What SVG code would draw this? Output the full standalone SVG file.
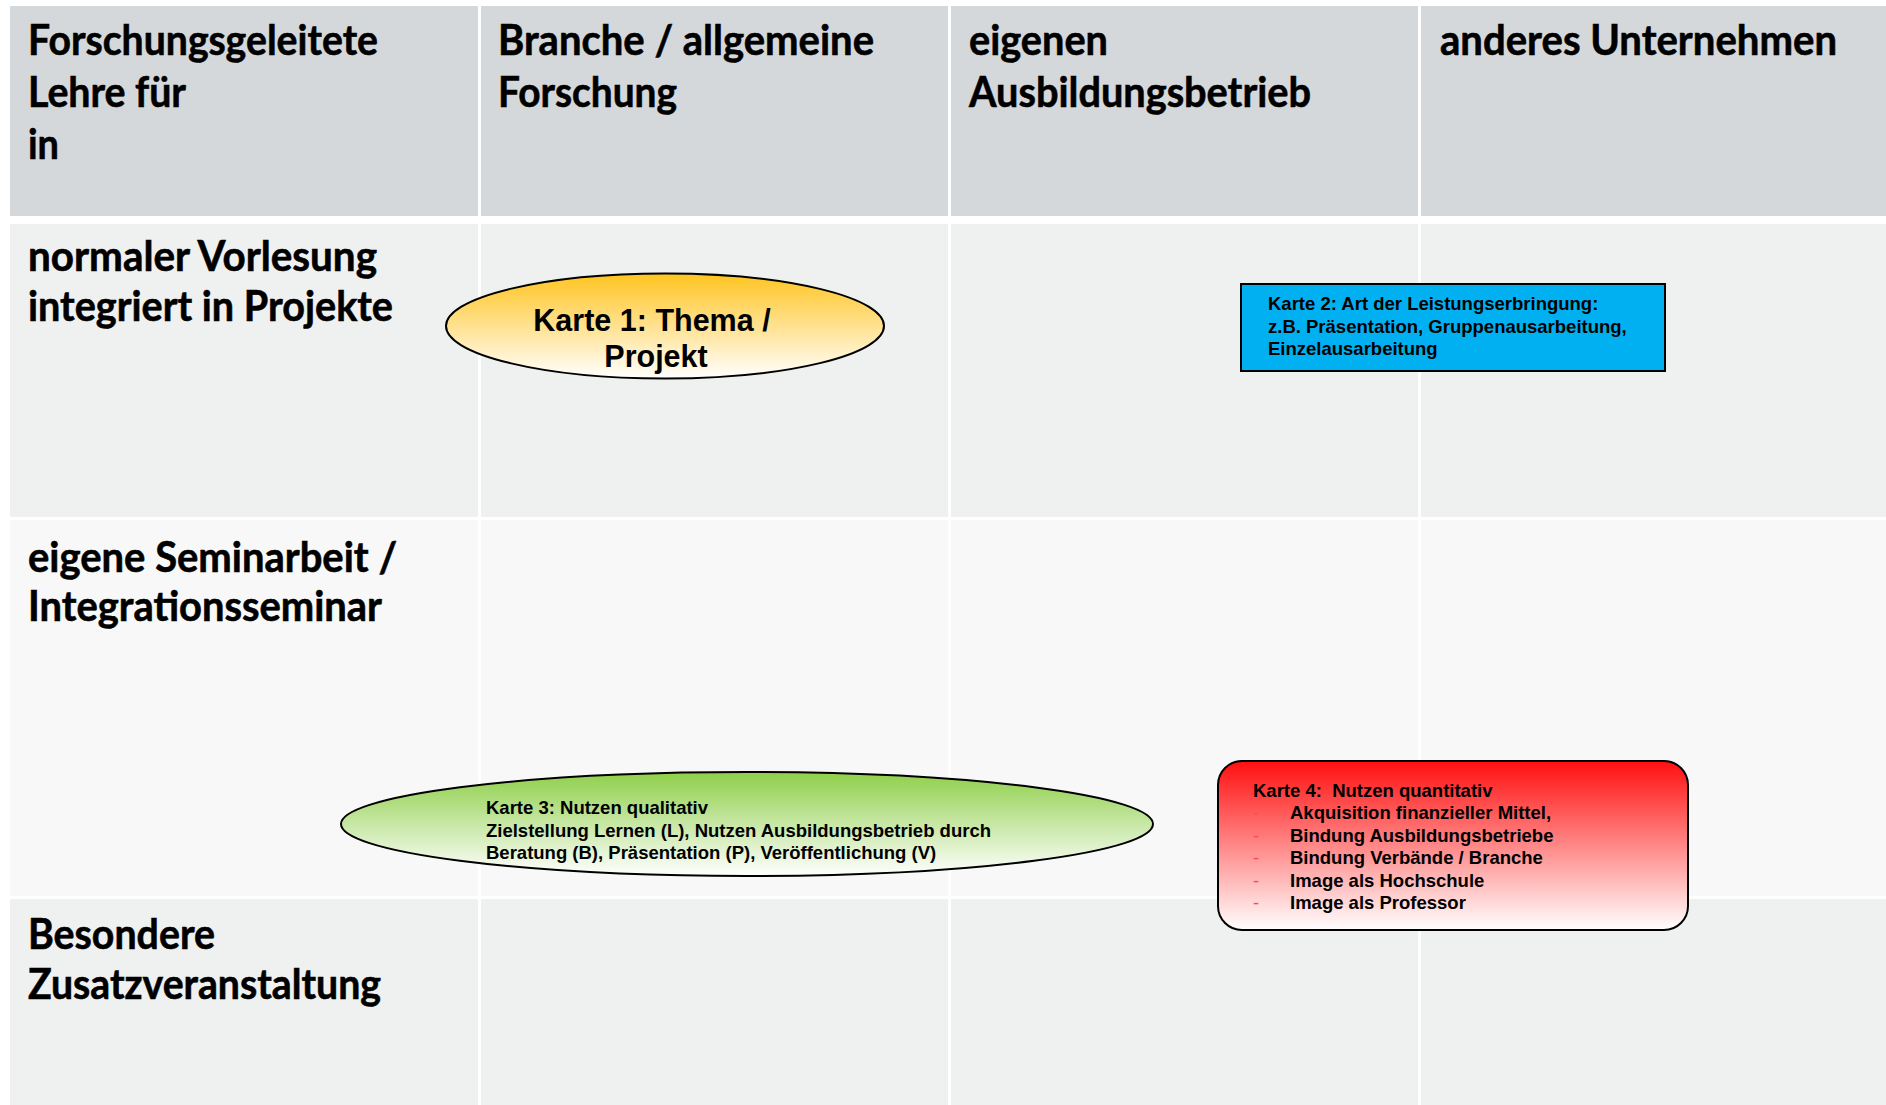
<svg xmlns="http://www.w3.org/2000/svg" width="1886" height="1105" viewBox="0 0 1886 1105">
<defs>
<style>
.hdr{fill:#d5d8db}
.r1{fill:#eff0f0}
.r2{fill:#f8f8f8}
.lab{font-family:Lato,"Open Sans","Noto Sans",sans-serif;font-weight:bold;font-size:42px;fill:#000;stroke:#000;stroke-width:0.6}
.card{font-family:"Liberation Sans",Arial,sans-serif;font-weight:bold;font-size:18.5px;fill:#000}
.big{font-family:"Liberation Sans",Arial,sans-serif;font-weight:bold;font-size:30.5px;fill:#000}
.dash{font-family:"Liberation Sans",Arial,sans-serif;font-size:18.5px;fill:#ff4a4a}
.shape{stroke:#000;stroke-width:2}
</style>
<linearGradient id="gOrange" x1="0" y1="0" x2="0" y2="1">
<stop offset="0" stop-color="#ffc420"/>
<stop offset="1" stop-color="#ffffff"/>
</linearGradient>
<linearGradient id="gGreen" x1="0" y1="0" x2="0" y2="1">
<stop offset="0" stop-color="#8fcf4a"/>
<stop offset="1" stop-color="#ffffff"/>
</linearGradient>
<linearGradient id="gRed" x1="0" y1="0" x2="0" y2="1">
<stop offset="0" stop-color="#ff1010"/>
<stop offset="1" stop-color="#ffffff"/>
</linearGradient>
</defs>
<rect x="0" y="0" width="1886" height="1105" fill="#ffffff"/>
<g id="table">
<rect class="hdr" x="10" y="6" width="468" height="210"/>
<rect class="hdr" x="481" y="6" width="467" height="210"/>
<rect class="hdr" x="951" y="6" width="467" height="210"/>
<rect class="hdr" x="1421" y="6" width="465" height="210"/>
<rect class="r1" x="10" y="224" width="468" height="293"/>
<rect class="r1" x="481" y="224" width="467" height="293"/>
<rect class="r1" x="951" y="224" width="467" height="293"/>
<rect class="r1" x="1421" y="224" width="465" height="293"/>
<rect class="r2" x="10" y="520" width="468" height="376"/>
<rect class="r2" x="481" y="520" width="467" height="376"/>
<rect class="r2" x="951" y="520" width="467" height="376"/>
<rect class="r2" x="1421" y="520" width="465" height="376"/>
<rect class="r1" x="10" y="899" width="468" height="206"/>
<rect class="r1" x="481" y="899" width="467" height="206"/>
<rect class="r1" x="951" y="899" width="467" height="206"/>
<rect class="r1" x="1421" y="899" width="465" height="206"/>
</g>
<g id="headers">
<text class="lab" x="28" y="55" textLength="350" lengthAdjust="spacingAndGlyphs">Forschungsgeleitete</text>
<text class="lab" x="28" y="107" textLength="158" lengthAdjust="spacingAndGlyphs">Lehre für</text>
<text class="lab" x="28" y="159" textLength="31" lengthAdjust="spacingAndGlyphs">in</text>
<text class="lab" x="498" y="55" textLength="376" lengthAdjust="spacingAndGlyphs">Branche / allgemeine</text>
<text class="lab" x="498" y="107" textLength="179" lengthAdjust="spacingAndGlyphs">Forschung</text>
<text class="lab" x="969" y="55" textLength="139" lengthAdjust="spacingAndGlyphs">eigenen</text>
<text class="lab" x="969" y="107" textLength="342" lengthAdjust="spacingAndGlyphs">Ausbildungsbetrieb</text>
<text class="lab" x="1440" y="55" textLength="397" lengthAdjust="spacingAndGlyphs">anderes Unternehmen</text>
</g>
<g id="rowlabels">
<text class="lab" x="28" y="271" textLength="349" lengthAdjust="spacingAndGlyphs">normaler Vorlesung</text>
<text class="lab" x="28" y="321" textLength="365" lengthAdjust="spacingAndGlyphs">integriert in Projekte</text>
<text class="lab" x="28" y="572" textLength="369" lengthAdjust="spacingAndGlyphs">eigene Seminarbeit /</text>
<text class="lab" x="28" y="621" textLength="354" lengthAdjust="spacingAndGlyphs">Integrationsseminar</text>
<text class="lab" x="28" y="949" textLength="187" lengthAdjust="spacingAndGlyphs">Besondere</text>
<text class="lab" x="28" y="999" textLength="353" lengthAdjust="spacingAndGlyphs">Zusatzveranstaltung</text>
</g>
<g id="connectors"></g>
<g id="karte1">
<ellipse class="shape" cx="665" cy="326" rx="219" ry="52.5" fill="url(#gOrange)"/>
<text class="big" x="652" y="331" text-anchor="middle">Karte 1: Thema /</text>
<text class="big" x="656" y="367" text-anchor="middle">Projekt</text>
</g>
<g id="karte2">
<rect class="shape" x="1241" y="284" width="424" height="87" fill="#00b0f0"/>
<text class="card" x="1268" y="310">Karte 2: Art der Leistungserbringung:</text>
<text class="card" x="1268" y="332.5">z.B. Präsentation, Gruppenausarbeitung,</text>
<text class="card" x="1268" y="355">Einzelausarbeitung</text>
</g>
<g id="karte3">
<ellipse class="shape" cx="747" cy="824" rx="406" ry="52" fill="url(#gGreen)"/>
<text class="card" x="486" y="814">Karte 3: Nutzen qualitativ</text>
<text class="card" x="486" y="836.5">Zielstellung Lernen (L), Nutzen Ausbildungsbetrieb durch</text>
<text class="card" x="486" y="859">Beratung (B), Präsentation (P), Veröffentlichung (V)</text>
</g>
<g id="karte4">
<rect class="shape" x="1218" y="761" width="470" height="169" rx="24" ry="24" fill="url(#gRed)"/>
<text class="card" x="1253" y="797" xml:space="preserve">Karte 4:  Nutzen quantitativ</text>
<text class="dash" x="1253" y="819.4">-</text>
<text class="card" x="1290" y="819.4">Akquisition finanzieller Mittel,</text>
<text class="dash" x="1253" y="841.8">-</text>
<text class="card" x="1290" y="841.8">Bindung Ausbildungsbetriebe</text>
<text class="dash" x="1253" y="864.2">-</text>
<text class="card" x="1290" y="864.2">Bindung Verbände / Branche</text>
<text class="dash" x="1253" y="886.6">-</text>
<text class="card" x="1290" y="886.6">Image als Hochschule</text>
<text class="dash" x="1253" y="909">-</text>
<text class="card" x="1290" y="909">Image als Professor</text>
</g>
</svg>
